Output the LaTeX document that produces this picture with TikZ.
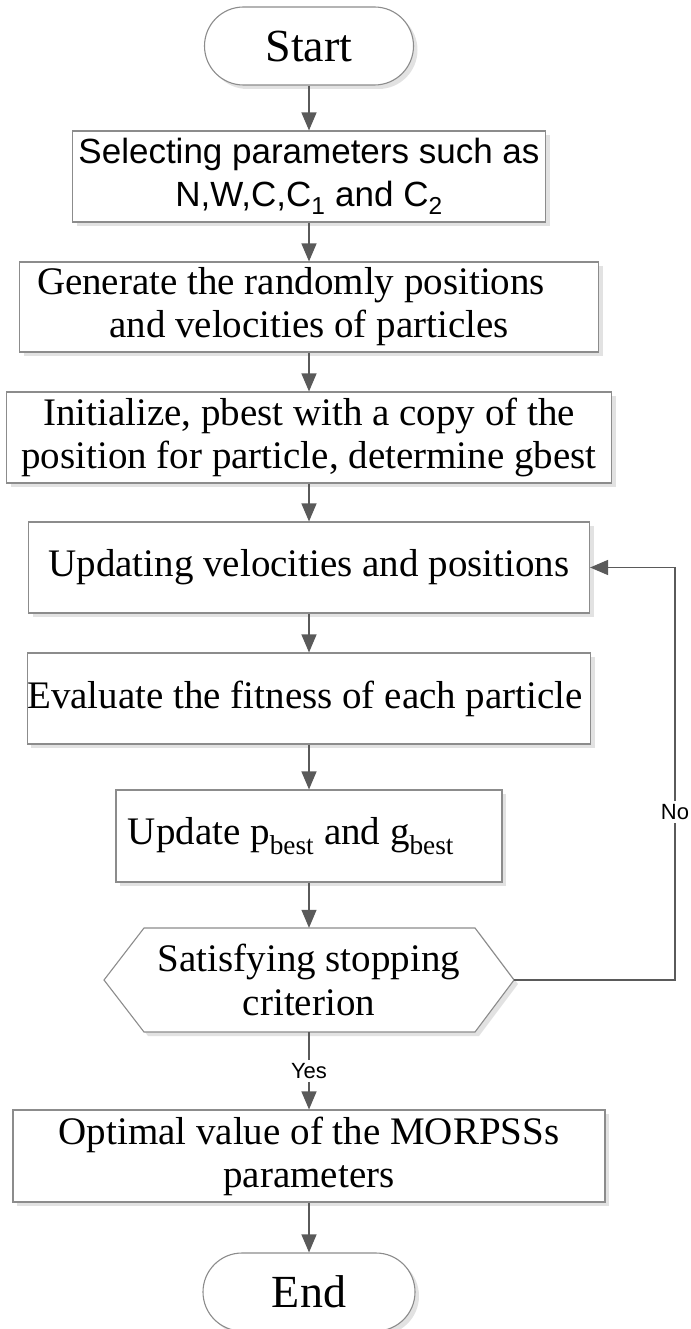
\documentclass[tikz,border=0pt]{standalone}
\usepackage{fontspec}
\setmainfont{Liberation Serif}
\setsansfont{Liberation Sans}
\usetikzlibrary{arrows.meta,shadows}
\definecolor{linec}{HTML}{5A5A5A}
\definecolor{boxc}{HTML}{8C8C8C}
\definecolor{shadc}{HTML}{E2E2E2}
\begin{document}
\begin{tikzpicture}[x=1pt,y=-1pt,
  shad/.style={drop shadow={shadow xshift=4pt,shadow yshift=-4pt,fill=shadc,opacity=1}},
  box/.style={rectangle,draw=boxc,line width=1.1pt,fill=white,inner sep=0pt,shad,
    align=center,font=\fontsize{39}{43}\selectfont},
  sansbox/.style={box,font=\sffamily\fontsize{35}{43}\selectfont},
  term/.style={box,rounded corners=39pt,font=\fontsize{46}{50}\selectfont},
  lab/.style={fill=white,inner sep=3pt,font=\sffamily\fontsize{22}{25}\selectfont},
  conn/.style={draw=linec,line width=1.3pt},
  arr/.style={conn,-{Triangle[length=18pt,width=15pt]}}]
\useasboundingbox (0,0) rectangle (690,1329);

\node[term,minimum width=209pt,minimum height=78pt] (start) at (309,46) {Start};
\node[sansbox,minimum width=473pt,minimum height=91pt] (b1) at (309,176.5)
  {Selecting parameters such as\\N,W,C,C\textsubscript{1} and C\textsubscript{2}};
\node[box,minimum width=579pt,minimum height=90pt] (b2) at (309,307)
  {Generate the randomly positions\hspace*{36pt}\\and velocities of particles};
\node[box,minimum width=605pt,minimum height=91pt] (b3) at (309,437.5)
  {Initialize, pbest with a copy of the\\position for particle, determine gbest};
\node[box,minimum width=561pt,minimum height=91pt] (b4) at (309,567.5)
  {Updating velocities and positions};
\node[box,minimum width=561pt,minimum height=91pt] (b5) at (309,698.5)
  {Evaluate the fitness of each particle\hspace*{8pt}};
\node[box,minimum width=386pt,minimum height=92pt] (b6) at (309,836)
  {Update p\textsubscript{best} and g\textsubscript{best}\hspace*{36pt}};

\coordinate (hexL) at (104,980);
\coordinate (hexR) at (514,980);
\path[draw=boxc,line width=1.1pt,fill=white,shad]
  (hexL) -- (144,928) -- (475,928) -- (hexR) -- (475,1032) -- (144,1032) -- cycle;
\node[align=center,inner sep=0pt,minimum width=410pt,minimum height=104pt,
  font=\fontsize{39}{44}\selectfont] (hex) at (309,980)
  {Satisfying stopping\\criterion};

\node[box,minimum width=592pt,minimum height=92pt] (b7) at (309,1156)
  {Optimal value of the MORPSSs\\parameters};
\node[term,minimum width=212pt,minimum height=78pt] (end) at (309,1292) {End};

\node[lab] (yes) at (309,1071) {Yes};
\node[lab] (no) at (675,812) {No};

\draw[arr] (start) -- (b1);
\draw[arr] (b1) -- (b2);
\draw[arr] (b2) -- (b3);
\draw[arr] (b3) -- (b4);
\draw[arr] (b4) -- (b5);
\draw[arr] (b5) -- (b6);
\draw[arr] (b6) -- (hex.north);
\draw[conn] (hex.south) -- (yes.north);
\draw[arr] (yes.south) -- (b7);
\draw[arr] (b7) -- (end);
\draw[conn] (hexR) -| (no.south);
\draw[arr] (no.north) |- (b4.east);
\end{tikzpicture}
\end{document}
